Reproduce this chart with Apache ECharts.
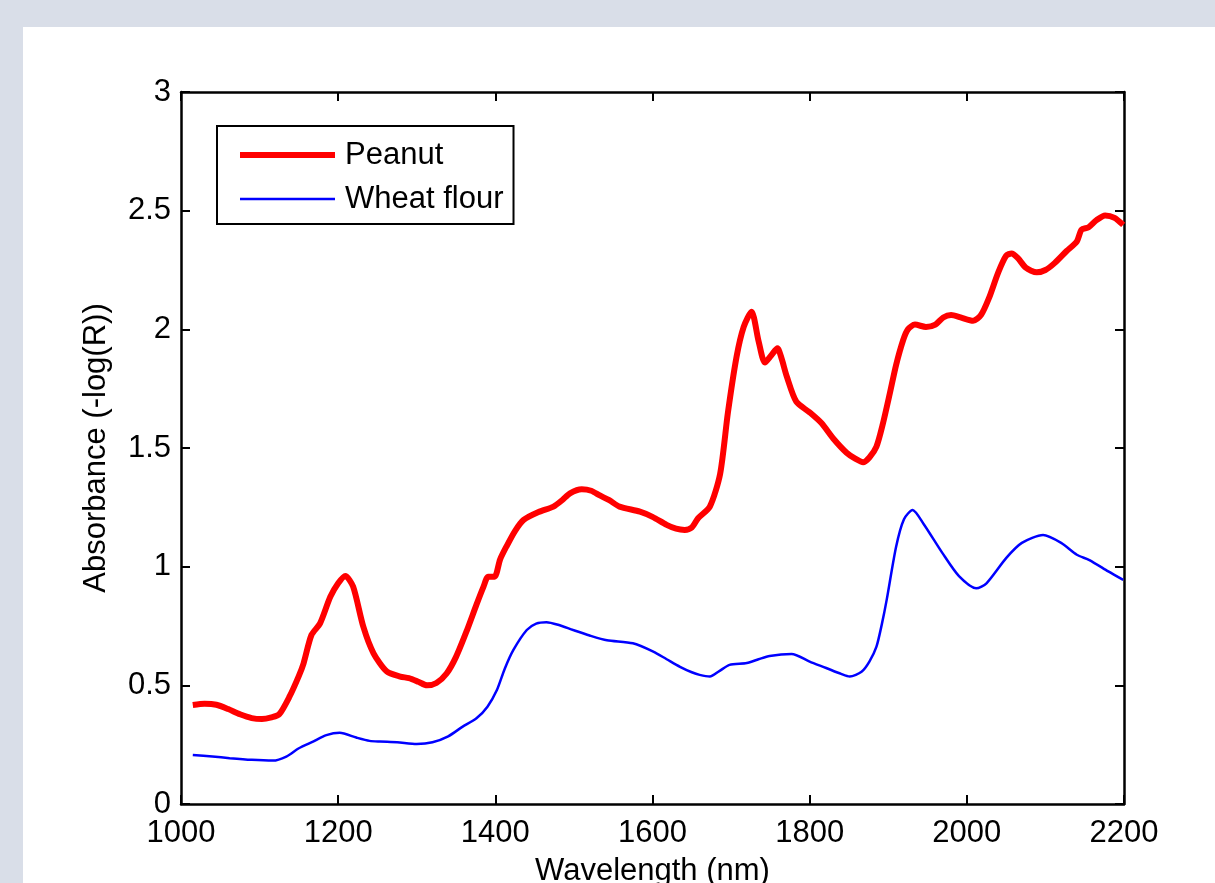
<!DOCTYPE html>
<html>
<head>
<meta charset="utf-8">
<script src="https://cdn.jsdelivr.net/npm/echarts@6/dist/echarts.min.js"></script>
<style>
  html, body { margin: 0; padding: 0; width: 1215px; height: 883px; background: #d9dee8; overflow: hidden; }
  #chart { position: absolute; left: 23px; top: 27px; width: 1192px; height: 856px; background: #ffffff; }
</style>
</head>
<body>
<div id="chart"></div>
<script>
const seriesNames = ['Peanut', 'Wheat flour'];
const xTicks = [1000, 1200, 1400, 1600, 1800, 2000, 2200];
const yTicks = [0, 0.5, 1, 1.5, 2, 2.5, 3];

const peanutX = [1015,1030,1045,1060,1075,1090,1103,1115,1125,1138,1150,1156,1166,1177,1190,1200,1209,1219,1232,1245,1262,1279,1290,1302,1313,1325,1338,1350,1364,1376,1385,1391,1399,1406,1414,1425,1436,1455,1474,1485,1495,1510,1522,1533,1545,1558,1584,1600,1618,1630,1641,1650,1658,1673,1686,1696,1707,1716,1726,1735,1743,1751,1759,1764,1771,1783,1800,1815,1830,1847,1858,1868,1876,1885,1893,1902,1910,1919,1925,1934,1948,1960,1970,1980,1992,2008,2018,2028,2040,2050,2057,2065,2075,2089,2100,2112,2127,2140,2146,2155,2165,2176,2188,2199];
const peanutY = [0.417,0.422,0.418,0.40,0.378,0.362,0.358,0.365,0.378,0.452,0.54,0.593,0.712,0.761,0.873,0.93,0.961,0.916,0.747,0.635,0.558,0.537,0.53,0.515,0.50,0.51,0.55,0.62,0.733,0.84,0.916,0.958,0.958,1.03,1.084,1.15,1.197,1.23,1.253,1.28,1.309,1.326,1.32,1.30,1.28,1.253,1.232,1.21,1.176,1.16,1.155,1.165,1.204,1.253,1.39,1.65,1.885,2.01,2.074,1.95,1.86,1.89,1.92,1.88,1.80,1.695,1.65,1.605,1.54,1.48,1.455,1.44,1.46,1.506,1.60,1.73,1.85,1.955,2.0,2.02,2.01,2.02,2.05,2.06,2.05,2.036,2.06,2.13,2.24,2.31,2.32,2.30,2.26,2.24,2.25,2.28,2.33,2.37,2.42,2.43,2.46,2.48,2.47,2.44];

const wheatX = [1015,1040,1062,1090,1117,1134,1150,1168,1185,1202,1223,1240,1253,1275,1300,1320,1340,1358,1376,1390,1402,1412,1423,1440,1452,1465,1480,1499,1520,1542,1575,1601,1618,1635,1650,1660,1673,1685,1698,1720,1735,1749,1777,1800,1821,1840,1851,1866,1876,1885,1892,1898,1910,1920,1931,1945,1969,1990,2012,2025,2050,2070,2097,2120,2140,2156,2180,2199];
const wheatY = [0.206,0.20,0.193,0.186,0.183,0.20,0.235,0.263,0.29,0.30,0.28,0.266,0.263,0.26,0.253,0.26,0.285,0.325,0.361,0.41,0.48,0.57,0.649,0.733,0.76,0.766,0.755,0.733,0.71,0.69,0.677,0.642,0.61,0.578,0.555,0.544,0.537,0.56,0.586,0.594,0.61,0.624,0.632,0.60,0.573,0.548,0.537,0.557,0.60,0.663,0.76,0.86,1.084,1.20,1.239,1.18,1.057,0.96,0.909,0.93,1.036,1.10,1.133,1.10,1.05,1.028,0.98,0.944];

const FONT = "'Liberation Sans', Arial, Helvetica, sans-serif";
const FS = 31;
const pair = (xs, ys) => xs.map((x, i) => [x, ys[i]]);

const chart = echarts.init(document.getElementById('chart'), null, { renderer: 'canvas' });

const axisLine = { show: true, onZero: false, lineStyle: { color: '#000', width: 2.5 } };
const axisTick = { show: true, inside: true, length: 9, lineStyle: { color: '#000', width: 2 } };

chart.setOption({
  animation: false,
  backgroundColor: '#ffffff',
  grid: { left: 158, right: 91, top: 65, bottom: 79, containLabel: false, outerBoundsMode: 'none' },
  legend: {
    orient: 'vertical',
    left: 194, top: 99,
    data: [
      { name: seriesNames[0], lineStyle: { width: 6, color: '#ff0000' }, itemStyle: { color: '#ff0000' } },
      { name: seriesNames[1], lineStyle: { width: 2.5, color: '#0000ff' }, itemStyle: { color: '#0000ff' } }
    ],
    backgroundColor: '#ffffff',
    borderColor: '#000', borderWidth: 2,
    padding: [12, 10, 8, 20],
    itemWidth: 95, itemHeight: 2, itemGap: 10,
    textStyle: { fontFamily: FONT, fontSize: FS, color: '#000', padding: [0, 0, 0, 5], lineHeight: 34 }
  },
  xAxis: [
    {
      type: 'value', min: xTicks[0], max: xTicks[xTicks.length - 1], interval: 200,
      name: 'Wavelength (nm)', nameLocation: 'middle', nameGap: 52,
      nameTextStyle: { fontFamily: FONT, fontSize: FS, color: '#000' },
      axisLine, axisTick,
      axisLabel: { fontFamily: FONT, fontSize: FS, color: '#000', margin: 14, formatter: v => String(v) },
      splitLine: { show: false }
    },
    {
      type: 'value', position: 'top', min: xTicks[0], max: xTicks[xTicks.length - 1], interval: 200,
      axisLine, axisTick, axisLabel: { show: false }, splitLine: { show: false }
    }
  ],
  yAxis: [
    {
      type: 'value', min: yTicks[0], max: yTicks[yTicks.length - 1], interval: 0.5,
      name: 'Absorbance (-log(R))', nameLocation: 'middle', nameGap: 69,
      nameTextStyle: { fontFamily: FONT, fontSize: FS, color: '#000' },
      axisLine, axisTick,
      axisLabel: { fontFamily: FONT, fontSize: FS, color: '#000', margin: 10, formatter: v => String(v) },
      splitLine: { show: false }
    },
    {
      type: 'value', position: 'right', min: yTicks[0], max: yTicks[yTicks.length - 1], interval: 0.5,
      axisLine, axisTick, axisLabel: { show: false }, splitLine: { show: false }
    }
  ],
  series: [
    {
      name: seriesNames[0], type: 'line', xAxisIndex: 0, yAxisIndex: 0,
      data: pair(peanutX, peanutY), showSymbol: false, symbol: 'none', smooth: 0.25,
      lineStyle: { color: '#ff0000', width: 6 }, itemStyle: { color: '#ff0000' }, z: 3
    },
    {
      name: seriesNames[1], type: 'line', xAxisIndex: 0, yAxisIndex: 0,
      data: pair(wheatX, wheatY), showSymbol: false, symbol: 'none', smooth: 0.25,
      lineStyle: { color: '#0000ff', width: 2.5 }, itemStyle: { color: '#0000ff' }, z: 2
    }
  ]
});
</script>
</body>
</html>
